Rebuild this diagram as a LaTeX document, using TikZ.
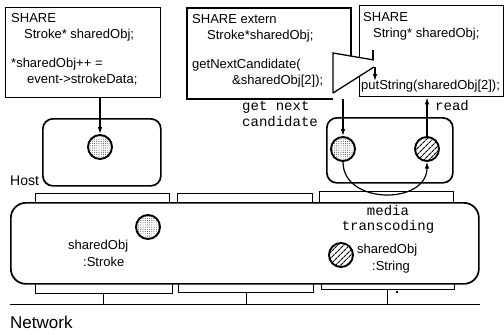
\documentclass[tikz,border=0pt]{standalone}
\usepackage{fontspec}
\setmainfont{Liberation Sans}
\setmonofont{Liberation Mono}
\usetikzlibrary{arrows.meta,patterns.meta}
\begin{document}
\begin{tikzpicture}[x=1pt,y=-1pt,
  codebox/.style={draw, line width=1.3pt, anchor=north west, inner sep=0pt},
  code/.style={anchor=north west, align=left, inner sep=0pt, font=\fontsize{13}{16}\selectfont},
  hostbox/.style={draw, line width=1.7pt, rounded corners=10pt, anchor=north west, inner sep=0pt},
  dotobj/.style={circle, draw, line width=1.9pt, minimum size=24pt, inner sep=0pt,
    pattern={Dots[distance=2.2pt, radius=0.45pt]}, pattern color=black!85},
  hatchobj/.style={circle, draw, line width=1.9pt, minimum size=24pt, inner sep=0pt,
    pattern={Lines[angle=45, distance=4pt, line width=1.1pt]}, pattern color=black},
  lbl/.style={align=left, inner sep=0pt, anchor=north west, font=\fontsize{13}{17}\selectfont},
  tt/.style={inner sep=0pt, font=\ttfamily\fontsize{14}{15}\selectfont},
  arr/.style={line width=1.2pt, -{Latex[length=7pt, width=4.5pt]}},
  tab/.style={line width=1pt},
  edge/.style={line width=1.3pt},
]
\useasboundingbox (0,0) rectangle (504,335);

% program boxes
\node[codebox, minimum width=155pt, minimum height=90pt] (b1) at (5,7) {};
\node[code] (t1) at (11,13) {SHARE\\\hspace*{13pt}Stroke* sharedObj;\\[13pt]*sharedObj++ =\\\hspace*{16pt}event->strokeData;};

\draw[edge] (333,99) -- (187,99) -- (187,8) -- (351,8) -- (351,58);
\coordinate (b2s) at (343,99);
\node[code] (t2) at (192,14) {SHARE extern\\\hspace*{15pt}Stroke*sharedObj;\\[13pt]getNextCandidate(\\\hspace*{40pt}\&sharedObj[2]);};

\node[codebox, minimum width=144pt, minimum height=91pt] (b3) at (359,5) {};
\node[code] (t3) at (363,12) {SHARE\\\hspace*{10pt}String* sharedObj;};
\node[code, anchor=base west] (t4) at (361,89) {putString(sharedObj[2]);};

% transcoder between the two programs
\fill[white] (333,53) -- (374,60) -- (374,67) -- (333,93) -- cycle;
\draw[edge] (333,93) -- (333,53) -- (374,60);
\draw[edge] (333,93) -- (374,67);
\coordinate (tcin) at (373,50);
\draw[edge] (tcin) -- (373,60);
\coordinate (tcout) at (375,67);
\draw[arr] (tcout) -- (375,81);

% hosts
\node[hostbox, minimum width=118pt, minimum height=67pt] (h1) at (42,118) {};
\node[dotobj] (c1) at (100,147) {};
\draw[arr] (c1.north |- b1.south) -- (c1.north);
\node[inner sep=0pt, anchor=west, font=\fontsize{14}{16}\selectfont] (host) at (10,181) {Host};

\node[hostbox, minimum width=126pt, minimum height=65pt] (h2) at (326,117) {};
\node[dotobj] (c2) at (343,149) {};
\node[hatchobj] (c3) at (427,149) {};
\draw[arr] (b2s) -- (c2.north);
\draw[arr] (c3.north) -- (c3.north |- b3.south);
\draw[arr] (c2.south) .. controls (343,205) and (427,205) .. (c3.south);
\node[tt, anchor=west] (gn1) at (242,107) {get next};
\node[tt, anchor=west] (gn2) at (242,122) {candidate};
\node[tt, anchor=west] (rd) at (435,106) {read};

% network node with its interface tabs
\draw[tab] (35,202) -- (35,193) -- (169,193) -- (169,202);
\draw[tab] (177,202) -- (177,193) -- (312,193) -- (312,202);
\draw[tab] (319,202) -- (319,191) -- (453,191) -- (453,202);
\draw[tab] (35,283) -- (35,293) -- (172,293) -- (172,283);
\draw[tab] (178,283) -- (178,292) -- (313,292) -- (313,283);
\draw[tab] (321,283) -- (321,289) -- (454,289) -- (454,283);
\node[draw, line width=1.7pt, rounded corners=15pt, minimum width=468pt, minimum height=81pt,
      anchor=north west, inner sep=0pt, fill=white] (node) at (10,202) {};
\node[dotobj] (c4) at (148,227) {};
\node[hatchobj] (c5) at (341,255) {};
\node[lbl] (l4) at (68,240) {sharedObj\\\hspace*{15pt}:Stroke};
\node[lbl] (l5) at (357,244) {sharedObj\\\hspace*{15pt}:String};
\node[tt, align=center] (mt) at (388,219) {media\\transcoding};

% network line and the stems of the tabs
\coordinate (nl) at (10,304);
\coordinate (nr) at (480,304);
\draw[line width=1pt] (nl) -- (nr);
\coordinate (s1) at (103,293);
\coordinate (s2) at (246,292);
\coordinate (s3) at (387,289);
\draw[tab] (s1) -- (s1 |- nl);
\draw[tab] (s2) -- (s2 |- nl);
\draw[tab] (s3) -- (s3 |- nl);
\fill (397,292) circle (1.3pt);
\node[inner sep=0pt, anchor=west, font=\fontsize{17}{19}\selectfont] (net) at (10,322) {Network};
\end{tikzpicture}
\end{document}
